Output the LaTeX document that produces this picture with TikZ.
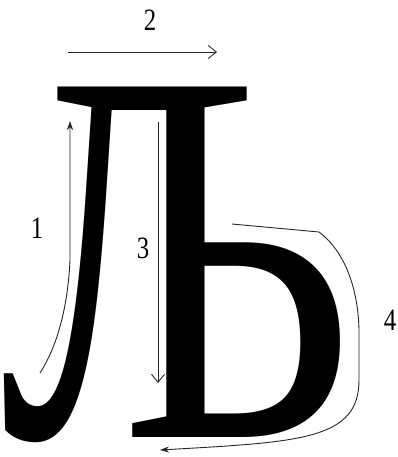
\documentclass[tikz,border=0pt]{standalone}
\usepackage{fontspec}
\setmainfont{Liberation Serif}
\usetikzlibrary{arrows.meta}
\tikzset{
  stroke/.style={draw=black!85, line width=0.9pt},
  openarrow/.style={stroke, -{Straight Barb[length=8pt,width=13pt]}},
  fillarrow/.style={stroke, -{Stealth[length=9pt,width=6pt]}},
  num/.style={inner sep=0pt, font=\fontsize{31pt}{31pt}\selectfont},
}
\begin{document}
\begin{tikzpicture}[x=1pt,y=-1pt]
\useasboundingbox (0,0) rectangle (398,457);
\node[inner sep=0pt, anchor=base west] (letter) at (0,437)
  {\makebox[345pt][l]{\scalebox{0.765}[1.01]{\fontsize{530pt}{530pt}\selectfont Љ}}};
% labels
\node[num] (n1) at (37,228) {\scalebox{0.8}[1]{1}};
\node[num] (n2) at (150,20) {\scalebox{0.8}[1]{2}};
\node[num] (n3) at (143,248) {\scalebox{0.8}[1]{3}};
\node[num] (n4) at (390,320) {\scalebox{0.8}[1]{4}};
% connector ends
\coordinate (a2s) at (68,52);
\coordinate (a2e) at (217,52);
\coordinate (a1s) at (40,373);
\coordinate (a1e) at (70,121);
\coordinate (a3s) at (158,122);
\coordinate (a3e) at (158,383);
\coordinate (a4s) at (232,224);
\coordinate (a4c) at (319,232);
\coordinate (a4e) at (160,450);
\draw[openarrow] (a2s) -- (a2e);
\draw[openarrow] (a3s) -- (a3e);
\draw[fillarrow] (a1s) .. controls (58,345) and (68,305) .. (70,260) -- (a1e);
\draw[fillarrow] (a4s) -- (a4c) .. controls (343,250) and (358,285) .. (359,330)
  -- (359,380) .. controls (359,440) and (300,442) .. (a4e);
\end{tikzpicture}
\end{document}
